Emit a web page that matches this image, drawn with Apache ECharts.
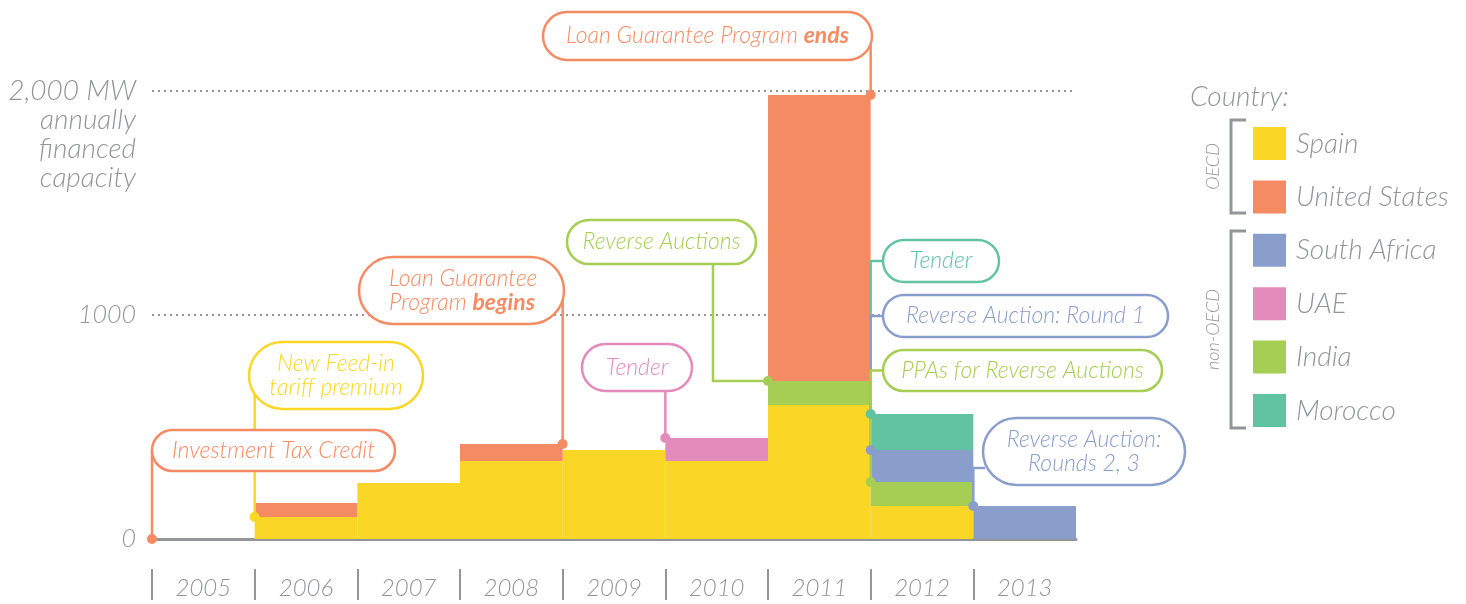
<!DOCTYPE html>
<html>
<head>
<meta charset="utf-8">
<script src="https://cdn.jsdelivr.net/npm/echarts@6/dist/echarts.min.js"></script>
<style>
html, body { margin: 0; padding: 0; background: #fff; }
#main { width: 1466px; height: 604px; }
</style>
</head>
<body>
<div id="main"></div>
<script>
// data, MW of financed capacity per year
var years = ['2005', '2006', '2007', '2008', '2009', '2010', '2011', '2012', '2013'];
var spain        = [0, 98, 250, 348, 397, 348, 598, 147, 0];
var india        = [0, 0, 0, 0, 0, 0, 107, 107, 0];
var southAfrica  = [0, 0, 0, 0, 0, 0, 0, 143, 147];
var uae          = [0, 0, 0, 0, 0, 103, 0, 0, 0];
var unitedStates = [0, 63, 0, 76, 0, 0, 1277, 0, 0];
var morocco      = [0, 0, 0, 0, 0, 0, 0, 161, 0];

var yTickValues = [0, 1000, 2000];
var yTickLabels = ['0', '1000', '2,000 MW'];
var yUnitLines = ['annually', 'financed', 'capacity'];
var legendOrder = ['Spain', 'United States', 'South Africa', 'UAE', 'India', 'Morocco'];

var GRAY = '#939598';
var FONT = 'Lato';
var colors = {
    spain: '#FAD726',
    us: '#F58B63',
    sa: '#8A9ECB',
    uae: '#E38BBA',
    india: '#A6CE54',
    morocco: '#62C3A3'
};

// stacking order (bottom to top)
var stackSeries = [
    { name: 'Spain', data: spain, color: colors.spain },
    { name: 'India', data: india, color: colors.india },
    { name: 'South Africa', data: southAfrica, color: colors.sa },
    { name: 'UAE', data: uae, color: colors.uae },
    { name: 'United States', data: unitedStates, color: colors.us },
    { name: 'Morocco', data: morocco, color: colors.morocco }
];

var chart = echarts.init(document.getElementById('main'));

var option = {
    backgroundColor: '#fff',
    animation: false,
    title: {
        text: 'Country:',
        left: 1190,
        top: 83,
        padding: 0,
        textStyle: { fontFamily: FONT, fontStyle: 'italic', fontWeight: 300, fontSize: 28, color: GRAY }
    },
    legend: {
        orient: 'vertical',
        left: 1253,
        top: 127,
        padding: 0,
        itemWidth: 33,
        itemHeight: 33,
        itemGap: 20.4,
        icon: 'rect',
        selectedMode: false,
        data: legendOrder,
        formatter: function (name) { return '{t|' + name + '}'; },
        textStyle: {
            rich: {
                t: { fontFamily: FONT, fontStyle: 'italic', fontWeight: 300, fontSize: 28, color: GRAY, padding: [0, 0, 0, 5] }
            }
        }
    },
    grid: { left: 152, right: 390, top: 91, bottom: 65, outerBoundsMode: 'none' },
    xAxis: [
        {
            type: 'category',
            data: years,
            axisLine: { lineStyle: { color: GRAY, width: 3 } },
            axisTick: { show: false },
            axisLabel: {
                margin: 37,
                fontFamily: FONT, fontStyle: 'italic', fontWeight: 300, fontSize: 24, color: GRAY
            }
        },
        {
            // separators between the year labels
            type: 'category',
            data: years.concat(['']),
            boundaryGap: false,
            position: 'bottom',
            offset: 30,
            axisLine: { show: false },
            axisLabel: { show: false },
            axisTick: {
                show: true,
                length: 31,
                interval: function (idx) { return idx < years.length; },
                lineStyle: { color: GRAY, width: 2 }
            }
        }
    ],
    yAxis: {
        type: 'value',
        min: 0,
        max: 2000,
        interval: 1000,
        axisLine: { show: false },
        axisTick: { show: false },
        splitLine: { lineStyle: { color: GRAY, width: 2, type: [2, 4] } },
        axisLabel: {
            margin: 16,
            lineHeight: 29,
            fontFamily: FONT, fontStyle: 'italic', fontWeight: 300, fontSize: 28, color: GRAY,
            formatter: function (v) {
                var i = yTickValues.indexOf(v);
                if (i === yTickValues.length - 1) {
                    // keep the first line on the gridline
                    return '\n\n\n' + yTickLabels[i] + '\n' + yUnitLines.join('\n');
                }
                return i >= 0 ? '{s|' + yTickLabels[i] + '}' : '';
            },
            rich: {
                s: { fontFamily: FONT, fontStyle: 'italic', fontWeight: 300, fontSize: 25, color: GRAY }
            }
        }
    },
    series: stackSeries.map(function (s) {
        return {
            name: s.name,
            type: 'bar',
            stack: 'total',
            xAxisIndex: 0,
            barCategoryGap: '0%',
            itemStyle: { color: s.color },
            data: s.data
        };
    })
};
chart.setOption(option);

// ---- callouts ----
function stackTop(i, k) {
    var t = 0;
    for (var j = 0; j < k; j++) t += stackSeries[j].data[i];
    return t;
}
function edgeX(i, side) {
    var c0 = chart.convertToPixel({ xAxisIndex: 0 }, years[0]);
    var c1 = chart.convertToPixel({ xAxisIndex: 0 }, years[1]);
    var c = chart.convertToPixel({ xAxisIndex: 0 }, years[i]);
    var half = (c1 - c0) / 2;
    return side === 'left' ? c - half : c + half;
}
function yPx(v) { return chart.convertToPixel({ yAxisIndex: 0 }, v); }

// year index, which edge, how many stacked series make the anchor height
var callouts = [
    { text: '{n|Investment Tax Credit}', color: colors.us, year: 0, side: 'left', level: 0,
      box: [152, 430, 243, 41], route: 'vertical' },
    { text: '{n|New Feed-in}\n{n|tariff premium}', color: colors.spain, year: 1, side: 'left', level: 1,
      box: [249, 342, 174, 67], route: 'vertical' },
    { text: '{n|Loan Guarantee}\n{n|Program }{b|begins}', color: colors.us, year: 3, side: 'right', level: 6,
      box: [359, 257, 205, 67], route: 'vertical', align: 'left', textX: 389 },
    { text: '{n|Tender}', color: colors.uae, year: 5, side: 'left', level: 6,
      box: [582, 344, 110, 47], route: 'vertical' },
    { text: '{n|Reverse Auctions}', color: colors.india, year: 6, side: 'left', level: 2,
      box: [567, 220, 189, 44], route: 'drop', dropX: 713 },
    { text: '{n|Loan Guarantee Program }{b|ends}', color: colors.us, year: 6, side: 'right', level: 6,
      box: [543, 12, 329, 48], route: 'vertical' },
    { text: '{n|Tender}', color: colors.morocco, year: 7, side: 'left', level: 6,
      box: [883, 240, 116, 42], route: 'elbow' },
    { text: '{n|Reverse Auction: Round 1}', color: colors.sa, year: 7, side: 'left', level: 3,
      box: [883, 295, 285, 42], route: 'elbow' },
    { text: '{n|PPAs for Reverse Auctions}', color: colors.india, year: 7, side: 'left', level: 2,
      box: [883, 350, 279, 41], route: 'elbow' },
    { text: '{n|Reverse Auction:}\n{n|Rounds 2, 3}', color: colors.sa, year: 8, side: 'left', level: 6,
      box: [983, 418, 202, 67], route: 'elbow', elbowY: 468 }
];

var elements = [];
callouts.forEach(function (c) {
    var ax = edgeX(c.year, c.side);
    var ay = yPx(stackTop(c.year, c.level));
    var b = c.box;
    var midY = b[1] + b[3] / 2;
    var pts;
    if (c.route === 'vertical') {
        pts = [[ax, midY], [ax, ay]];
    } else if (c.route === 'drop') {
        pts = [[c.dropX, midY], [c.dropX, ay], [ax, ay]];
    } else {
        var ey = c.elbowY || midY;
        pts = [[b[0] + 2, ey], [ax, ey], [ax, ay]];
    }
    elements.push({
        type: 'polyline', z: 100,
        shape: { points: pts },
        style: { stroke: c.color, lineWidth: 2.5, fill: null }
    });
    elements.push({
        type: 'circle', z: 101,
        shape: { cx: ax, cy: ay, r: 5 },
        style: { fill: c.color }
    });
    elements.push({
        type: 'rect', z: 102,
        shape: { x: b[0], y: b[1], width: b[2], height: b[3], r: b[3] / 2 },
        style: { fill: '#fff', stroke: c.color, lineWidth: 2.5 }
    });
    var fs = 23;
    elements.push({
        type: 'text', z: 103,
        style: {
            text: c.text,
            x: c.align === 'left' ? c.textX : b[0] + b[2] / 2,
            y: midY,
            align: c.align || 'center',
            verticalAlign: 'middle',
            fill: c.color,
            rich: {
                n: { fontFamily: FONT, fontStyle: 'italic', fontWeight: 300, fontSize: fs, lineHeight: 24, fill: c.color },
                b: { fontFamily: FONT, fontStyle: 'italic', fontWeight: 'bold', fontSize: fs, lineHeight: 24, fill: c.color }
            }
        }
    });
});

// OECD / non-OECD brackets beside the legend
[
    { label: 'OECD', top: 120, bottom: 213 },
    { label: 'non-OECD', top: 231, bottom: 428 }
].forEach(function (g) {
    elements.push({
        type: 'polyline', z: 100,
        shape: { points: [[1246, g.top], [1231, g.top], [1231, g.bottom], [1246, g.bottom]] },
        style: { stroke: GRAY, lineWidth: 3, fill: null }
    });
    elements.push({
        type: 'text', z: 100,
        x: 1213, y: (g.top + g.bottom) / 2,
        rotation: Math.PI / 2,
        style: {
            text: g.label, x: 0, y: 0, align: 'center', verticalAlign: 'middle',
            fill: GRAY, fontFamily: FONT, fontStyle: 'italic', fontWeight: 300, fontSize: 18
        }
    });
});

chart.setOption({ graphic: { elements: elements } });
</script>
</body>
</html>
